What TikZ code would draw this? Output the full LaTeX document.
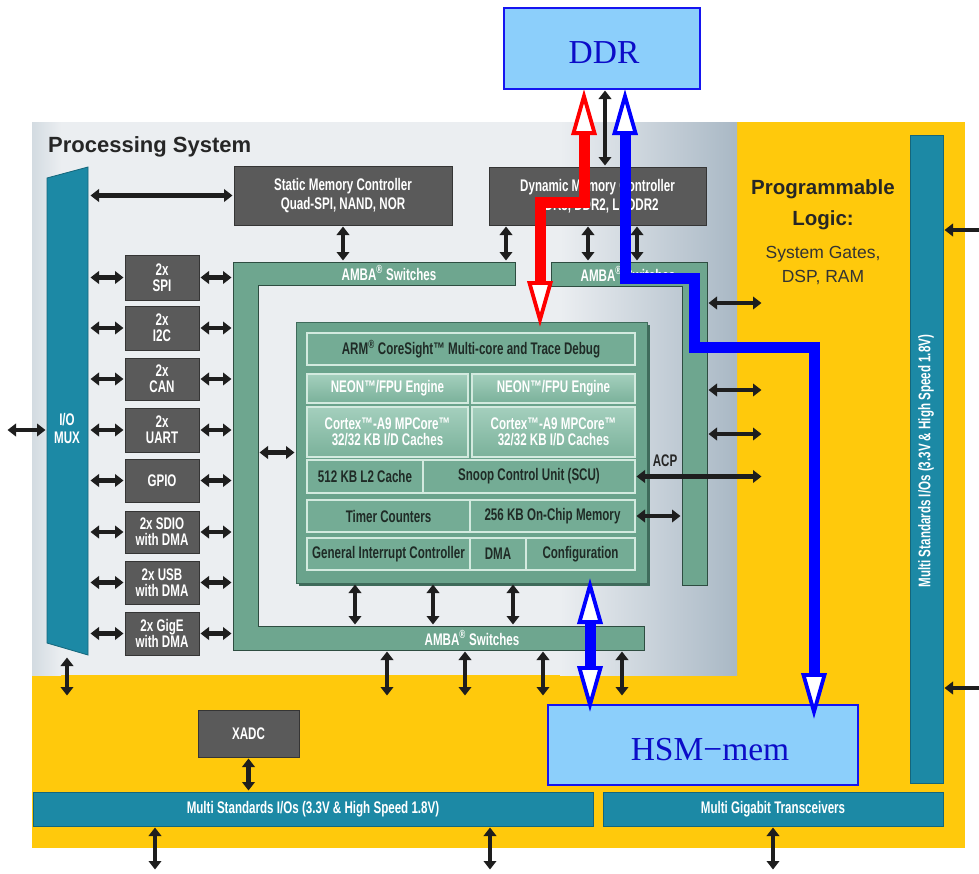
\documentclass[tikz,border=0pt]{standalone}
\usepackage{fontspec}
\setmainfont{Liberation Sans}
\newfontfamily\cond[FakeStretch=0.69]{Liberation Sans}
\newfontfamily\tms{Liberation Serif}
\usetikzlibrary{arrows.meta}
\definecolor{plyellow}{HTML}{FFC90C}
\definecolor{psgray}{HTML}{EBEEF1}
\definecolor{psleft}{HTML}{D3DBE1}
\definecolor{psdark}{HTML}{A9B8C5}
\definecolor{iot}{HTML}{1C89A5}
\definecolor{iotline}{HTML}{14667B}
\definecolor{ambaf}{HTML}{6EA68F}
\definecolor{ambal}{HTML}{2E4D41}
\definecolor{boxf}{HTML}{5A5A5A}
\definecolor{boxl}{HTML}{353535}
\definecolor{armf}{HTML}{6AA38C}
\definecolor{arms}{HTML}{3F6B5B}
\definecolor{rowf}{HTML}{74AC95}
\definecolor{rowl}{HTML}{D3EADF}
\definecolor{neont}{HTML}{A4CFBD}
\definecolor{neonb}{HTML}{7AB19A}
\definecolor{ltblue}{HTML}{8CCFFB}
\definecolor{bdblue}{HTML}{1515F0}
\definecolor{txblue}{HTML}{0C0CC8}
\definecolor{arrk}{HTML}{1E1E1E}
\definecolor{darktxt}{HTML}{1F2B26}
\definecolor{pstxt}{HTML}{262626}
\definecolor{pltxt}{HTML}{333333}
\newcommand\mybox[7]{\node[#1, minimum width={(#5)-(#3)}, minimum height={(#6)-(#4)}] (#2) at ({((#3)+(#5))/2},{((#4)+(#6))/2}) {#7};}
\tikzset{
  lbl/.style={font=\cond\bfseries\fontsize{16.8}{16}\selectfont, text=white, align=center},
  darkbox/.style={lbl, draw=boxl, fill=boxf, line width=1pt, inner sep=0pt, outer sep=0pt},
  tealbox/.style={lbl, draw=iotline, fill=iot, line width=0.8pt, inner sep=0pt, outer sep=0pt},
  bar/.style={inner sep=0pt, outer sep=0pt},
  ambatxt/.style={lbl, inner sep=0pt},
  armbox/.style={fill=armf, draw=arms, line width=0.8pt, inner sep=0pt, outer sep=0pt},
  rowd/.style={lbl, text=darktxt, fill=rowf, draw=rowl, line width=1.3pt, inner sep=0pt, outer sep=0pt},
  rown/.style={lbl, top color=neont, bottom color=neonb, draw=rowl, line width=1.3pt, inner sep=0pt, outer sep=0pt},
  bluebox/.style={fill=ltblue, draw=bdblue, line width=2.5pt, inner sep=0pt, outer sep=0pt},
  bigtxt/.style={font=\tms\fontsize{33.5}{36}\selectfont, text=txblue, inner sep=0pt, anchor=base},
  dbl/.style={line width=4.5pt, draw=arrk, {Triangle[length=8.5pt,width=12.5pt]}-{Triangle[length=8.5pt,width=12.5pt]}, shorten <=1.5pt, shorten >=1.5pt},
  hollow/.style={line width=11pt, {Triangle[length=46pt,width=25pt,line width=3.8pt,fill=white]}-{Triangle[length=46pt,width=25pt,line width=3.8pt,fill=white]}},
}
\begin{document}
\begin{tikzpicture}[x=1pt,y=-1pt]
\useasboundingbox (0,0) rectangle (979,873);
\fill[white] (0,0) rectangle (979,873);
% panels
\fill[plyellow] (32,122) rectangle (965,848);
\fill[psgray] (60,122) rectangle (561,675);
\shade[left color=psleft, right color=psgray] (32,122) rectangle (61,675);
\shade[left color=psgray, right color=psdark] (560,122) rectangle (737,675);
\node[anchor=base west, font=\bfseries\fontsize{22}{24}\selectfont, text=pstxt, inner sep=0pt] (pslbl) at (48,152) {Processing System};
\node[anchor=base, font=\bfseries\fontsize{20.5}{22}\selectfont, text=pstxt, inner sep=0pt] (pl1) at (823,194) {Programmable};
\node[anchor=base, font=\bfseries\fontsize{20.5}{22}\selectfont, text=pstxt, inner sep=0pt] (pl2) at (823,225) {Logic:};
\node[anchor=base, font=\fontsize{17.5}{19}\selectfont, text=pltxt, inner sep=0pt] (pl3) at (823,258) {System Gates,};
\node[anchor=base, font=\fontsize{17.5}{19}\selectfont, text=pltxt, inner sep=0pt] (pl4) at (823,282) {DSP, RAM};
% I/O MUX
\filldraw[fill=iot, draw=iotline, line width=0.8pt] (47,178) -- (88,167) -- (88,655) -- (47,643) -- cycle;
\node[lbl] (iomux) at (67,428) {I/O\\[2pt]MUX};
\coordinate (muxR) at (89,0);
\coordinate (muxL) at (47,430);
\coordinate (edgeL) at (6,430);
\coordinate (muxB) at (67,656);
\coordinate (plTop) at (0,697);
\coordinate (plL) at (763,0);
\coordinate (edgeR) at (990,0);
\coordinate (edgeB) at (0,871);
% memory controllers
\mybox{darkbox}{smc}{234}{166}{452}{225}{Static Memory Controller\\[3pt]Quad-SPI, NAND, NOR}
\mybox{darkbox}{dmc}{489}{167}{706}{225}{Dynamic Memory Controller\\[3pt]DDR3, DDR2, LPDDR2}
% peripherals
\mybox{darkbox}{spi}{125}{255}{199}{300}{2x\\SPI}
\mybox{darkbox}{iic}{125}{306}{199}{350}{2x\\I2C}
\mybox{darkbox}{can}{125}{358}{199}{400}{2x\\CAN}
\mybox{darkbox}{uart}{125}{408}{199}{452}{2x\\UART}
\mybox{darkbox}{gpio}{125}{459}{199}{502}{GPIO}
\mybox{darkbox}{sdio}{125}{511}{199}{553}{2x SDIO\\with DMA}
\mybox{darkbox}{usb}{125}{561}{199}{604}{2x USB\\with DMA}
\mybox{darkbox}{gige}{125}{612}{199}{655}{2x GigE\\with DMA}
% AMBA frames
\filldraw[fill=ambaf, draw=ambal, line width=1pt] (233,262) -- (515,262) -- (515,285) -- (258,285) -- (258,626) -- (644,626) -- (644,650) -- (233,650) -- cycle;
\filldraw[fill=ambaf, draw=ambal, line width=1pt] (551,262) -- (707,262) -- (707,585) -- (682,585) -- (682,286) -- (551,286) -- cycle;
\mybox{bar}{ambaT}{233}{262}{515}{285}{}
\mybox{bar}{ambaTR}{551}{262}{707}{286}{}
\mybox{bar}{ambaV}{233}{262}{258}{650}{}
\mybox{bar}{ambaR}{682}{262}{707}{585}{}
\mybox{bar}{ambaB}{233}{626}{644}{650}{}
\node[ambatxt] (ambaTl) at (389,273) {AMBA\textsuperscript{®} Switches};
\node[ambatxt] (ambaTRl) at (628,274) {AMBA\textsuperscript{®} Switches};
\node[ambatxt] (ambaBl) at (472,638) {AMBA\textsuperscript{®} Switches};
% ARM block
\fill[arms] (299,325) rectangle (650,586);
\mybox{armbox}{arm}{296}{322}{647}{583}{}
\mybox{rowd}{debug}{307}{333}{635}{365}{ARM\textsuperscript{®} CoreSight™ Multi-core and Trace Debug}
\mybox{rown}{neonL}{307}{374}{468}{403}{NEON™/FPU Engine}
\mybox{rown}{neonR}{472}{374}{635}{403}{NEON™/FPU Engine}
\mybox{rown}{cortexL}{307}{407}{468}{457}{Cortex™-A9 MPCore™\\32/32 KB I/D Caches}
\mybox{rown}{cortexR}{472}{407}{635}{457}{Cortex™-A9 MPCore™\\32/32 KB I/D Caches}
\mybox{rowd}{ltwo}{307}{460}{423}{493}{512 KB L2 Cache}
\mybox{rowd}{scu}{423}{460}{635}{493}{Snoop Control Unit (SCU)}
\mybox{rowd}{timer}{307}{500}{470}{532}{Timer Counters}
\mybox{rowd}{ocm}{470}{500}{635}{532}{256 KB On-Chip Memory}
\mybox{rowd}{gic}{307}{538}{470}{570}{General Interrupt Controller}
\mybox{rowd}{dma}{470}{538}{526}{570}{DMA}
\mybox{rowd}{cfg}{526}{538}{635}{570}{Configuration}
\node[lbl, text=pstxt] (acp) at (665,461) {ACP};
% PL side blocks
\mybox{tealbox}{msio}{910}{135}{943}{783}{}
\node[lbl, rotate=90] (msiot) at (926,461) {Multi Standards I/Os (3.3V \& High Speed 1.8V)};
\mybox{tealbox}{msiob}{33}{792}{593}{826}{Multi Standards I/Os (3.3V \& High Speed 1.8V)}
\mybox{tealbox}{mgt}{603}{792}{943}{826}{Multi Gigabit Transceivers}
\mybox{darkbox}{xadc}{198}{710}{299}{757}{XADC}
% DDR and HSM
\mybox{bluebox}{ddr}{504}{8}{700}{89}{}
\node[bigtxt] (ddrt) at (604,63) {DDR};
\mybox{bluebox}{hsm}{548}{705}{858}{785}{}
\node[bigtxt] (hsmt) at (710,760) {HSM−mem};
% black arrows
\draw[dbl] (edgeL) -- (muxL);
\draw[dbl] (smc.west) -- (smc.west -| muxR);
\draw[dbl] (smc.south) -- (smc.south |- ambaT.north);
\foreach \p in {spi,iic,can,uart,gpio,sdio,usb,gige}{
  \draw[dbl] (\p.west) -- (\p.west -| muxR);
  \draw[dbl] (\p.east) -- (\p.east -| ambaV.west);
}
\draw[dbl] (506,0 |- dmc.south) -- (506,0 |- ambaT.north);
\draw[dbl] (588,0 |- dmc.south) -- (588,0 |- ambaTR.north);
\draw[dbl] (637,0 |- dmc.south) -- (637,0 |- ambaTR.north);
\draw[dbl] (605,0 |- ddr.south) -- (605,0 |- dmc.north);
\draw[dbl] (arm.west) -- (arm.west -| ambaV.east);
\foreach \xx in {355,433,513}{
  \draw[dbl] (\xx,0 |- arm.south) -- (\xx,0 |- ambaB.north);
}
\foreach \xx in {387,465,543,622}{
  \draw[dbl] (\xx,0 |- ambaB.south) -- (\xx,0 |- plTop);
}
\draw[dbl] (muxB) -- (muxB |- plTop);
\foreach \yy in {303,390,434}{
  \draw[dbl] (ambaR.east |- 0,\yy) -- (plL |- 0,\yy);
}
\draw[dbl] (scu.east) -- (scu.east -| plL);
\draw[dbl] (ocm.east) -- (ocm.east -| ambaR.west);
\draw[dbl] (msio.east |- 0,230) -- (edgeR |- 0,230);
\draw[dbl] (msio.east |- 0,688) -- (edgeR |- 0,688);
\draw[dbl] (xadc.south) -- (xadc.south |- msiob.north);
\draw[dbl] (155,0 |- msiob.south) -- (155,0 |- edgeB);
\draw[dbl] (490,0 |- msiob.south) -- (490,0 |- edgeB);
\draw[dbl] (773,0 |- mgt.south) -- (773,0 |- edgeB);
% red and blue data paths
\draw[hollow, draw=red, shorten >=-5pt] (584,0 |- ddr.south) -- (584,202) -- (540,202) -- (540,0 |- arm.north);
\draw[hollow, draw=blue, shorten >=-14pt] (625,0 |- ddr.south) -- (625,278) -- (694,278) -- (694,347) -- (814,347) -- (814,0 |- hsm.north);
\draw[hollow, draw=blue, shorten <=-5pt, shorten >=-7pt] (590,0 |- arm.south) -- (590,0 |- hsm.north);
\end{tikzpicture}
\end{document}
